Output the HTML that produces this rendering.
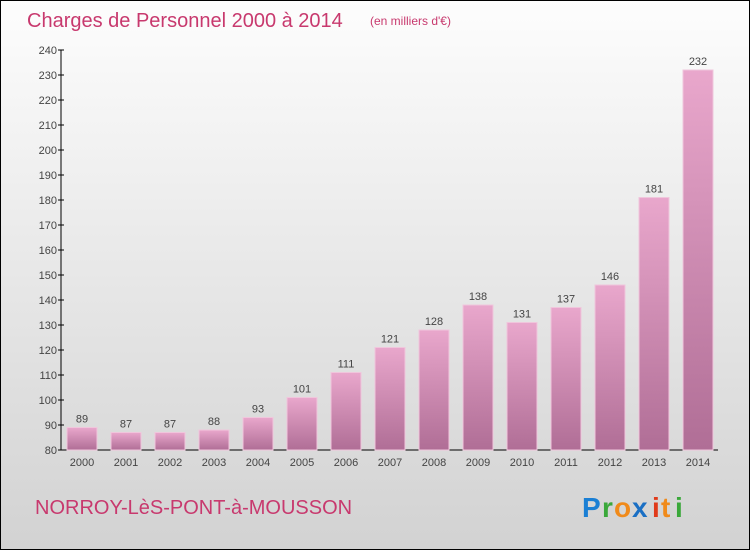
<!DOCTYPE html>
<html><head><meta charset="utf-8"><style>
html,body{margin:0;padding:0}
body{width:750px;height:550px;overflow:hidden;font-family:"Liberation Sans",sans-serif}
</style></head><body>
<svg width="750" height="550" xmlns="http://www.w3.org/2000/svg">
<defs>
<linearGradient id="bg" x1="0" y1="0" x2="0" y2="1"><stop offset="0" stop-color="#fdfdfd"/><stop offset="1" stop-color="#d2d2d2"/></linearGradient>
<linearGradient id="bar" x1="0" y1="0" x2="0" y2="1"><stop offset="0" stop-color="#e9a7cc"/><stop offset="1" stop-color="#b06e96"/></linearGradient>
</defs>
<rect x="0.5" y="0.5" width="749" height="549" fill="url(#bg)" stroke="#000"/>
<text x="27" y="27" font-size="20" fill="#c8396e">Charges de Personnel 2000 à 2014</text>
<text x="370" y="25" font-size="12" fill="#c8396e">(en milliers d'€)</text>
<g id="axes"></g>
<g id="bars"></g>
<text x="35" y="514" font-size="20" fill="#c8396e">NORROY-LèS-PONT-à-MOUSSON</text>
<g font-size="28" font-weight="bold">
<text x="582" y="517" fill="#1a7fd4">P</text><text x="602" y="517" fill="#3aa83a">r</text><text x="614" y="517" fill="#f08a1a">o</text><text x="632" y="517" fill="#1a6fc4">x</text><text x="652" y="517" fill="#e03a1a">i</text><text x="661" y="517" fill="#f08a1a">t</text><text x="675" y="517" fill="#3aa83a">i</text>
</g>
</svg>
<script>
const years=["2000","2001","2002","2003","2004","2005","2006","2007","2008","2009","2010","2011","2012","2013","2014"];
const values=[89,87,87,88,93,101,111,121,128,138,131,137,146,181,232];
const yTicks=[80,90,100,110,120,130,140,150,160,170,180,190,200,210,220,230,240];
const NS="http://www.w3.org/2000/svg";
const yMin=80,yMax=240,pTop=50,pBot=450,pLeft=61,pRight=718;
const yS=v=>pBot-(v-yMin)/(yMax-yMin)*(pBot-pTop);
const xS=i=>67+i*44;
const axesG=document.getElementById('axes'),barsG=document.getElementById('bars');
function mk(tag,attrs,parent){const e=document.createElementNS(NS,tag);for(const k in attrs)e.setAttribute(k,attrs[k]);parent.appendChild(e);return e;}
let ln=mk('line',{x1:pLeft,y1:pTop,x2:pLeft,y2:pBot,stroke:'#000'},axesG);


ln=mk('line',{x1:pLeft,y1:pBot,x2:pRight,y2:pBot,stroke:'#000'},axesG);


yTicks.forEach(t=>{
 const y=yS(t);
 const tk=mk('line',{x1:pLeft-3,y1:y,x2:pLeft+3,y2:y,stroke:'#000'},axesG);
 
 
 const tx=mk('text',{x:pLeft-4,y:y+4,'text-anchor':'end','font-size':11,fill:'#444'},axesG);
 tx.textContent=t;
 
 
});
values.forEach((v,i)=>{
 const x=xS(i),y=yS(v);
 const r=mk('rect',{x:x,y:y,width:30,height:pBot-y,fill:'url(#bar)',stroke:'#f0c6dc','stroke-width':1},barsG);
 
 
 const vl=mk('text',{x:x+15,y:y-5,'text-anchor':'middle','font-size':11,fill:'#444'},barsG);
 vl.textContent=v;
 
 
 const xl=mk('text',{x:x+15,y:pBot+16,'text-anchor':'middle','font-size':11,fill:'#444'},barsG);
 xl.textContent=years[i];
 
 
});
</script>
</body></html>
